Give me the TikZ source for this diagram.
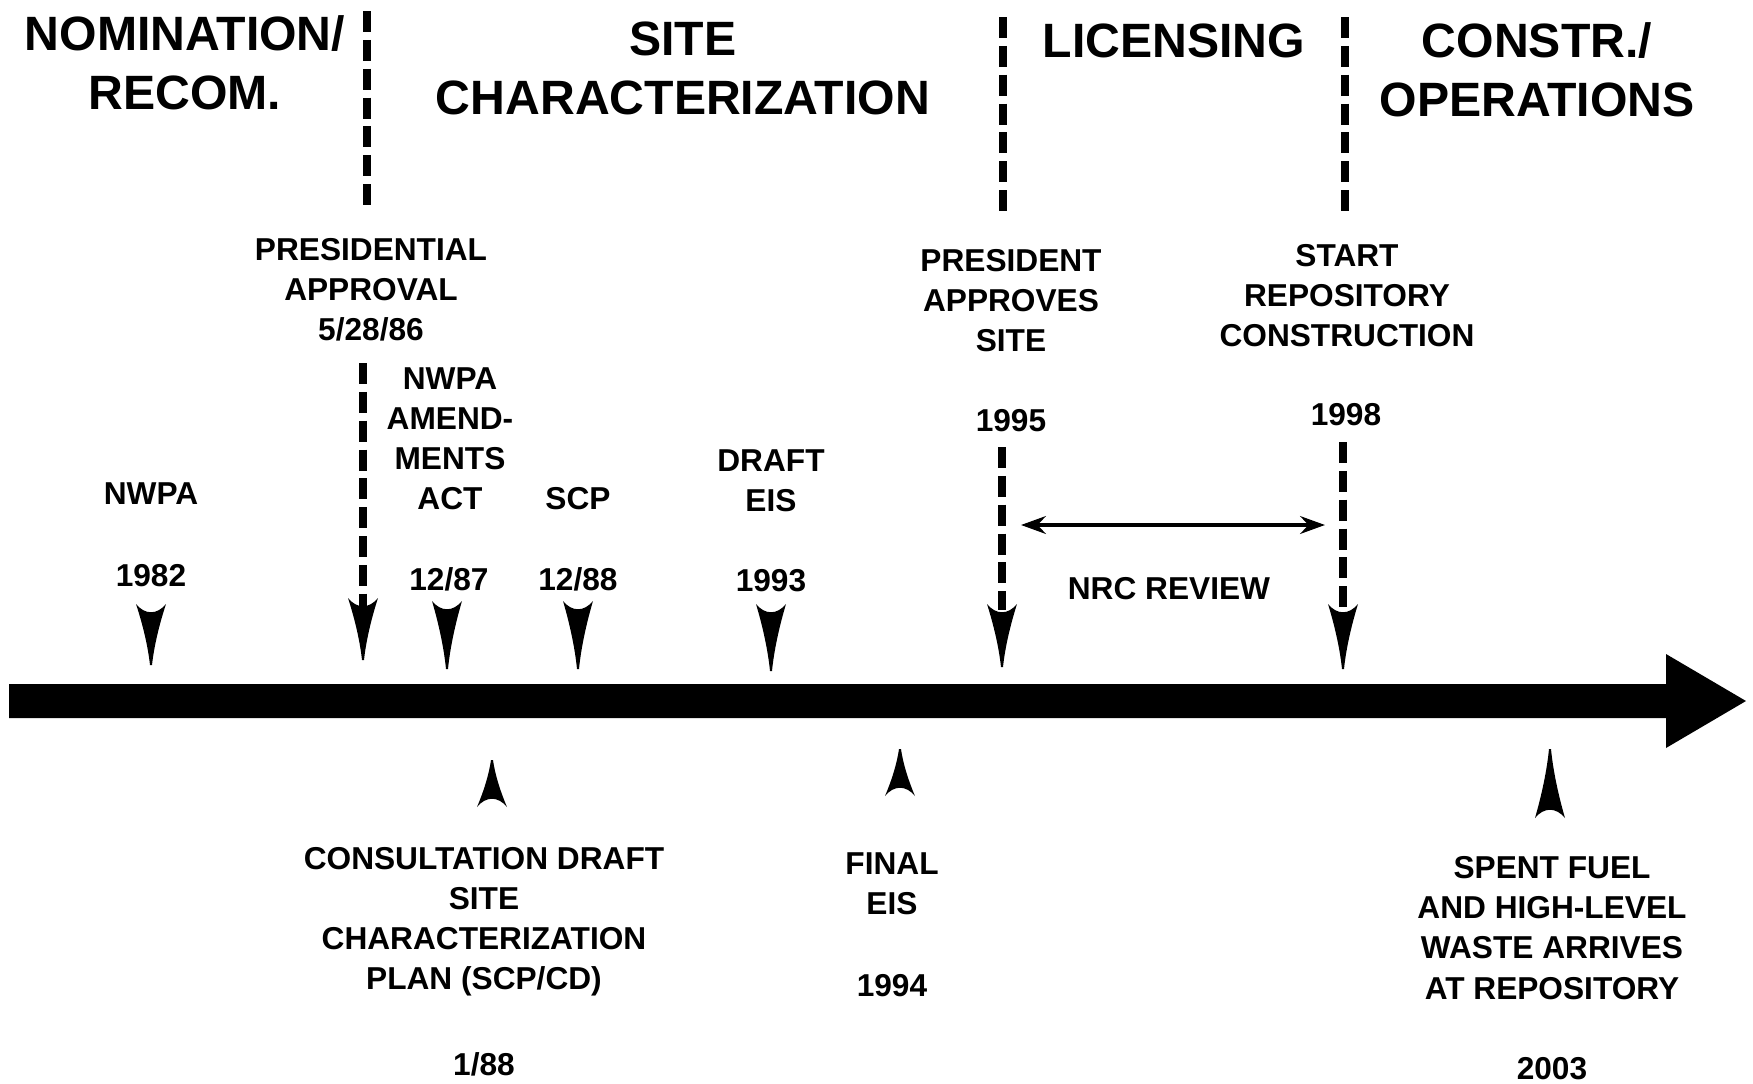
\documentclass[tikz,border=0pt]{standalone}
\usepackage{fontspec}
\setmainfont{Liberation Sans}
\usetikzlibrary{arrows.meta}

\begin{document}
\begin{tikzpicture}[x=0.01cm,y=-0.01cm,>={Stealth[length=7pt,width=5pt]},
  phase/.style={font=\fontsize{13.7}{16.8}\selectfont\bfseries,align=center,inner sep=0pt},
  lbl/.style={font=\fontsize{9}{11.4}\selectfont\bfseries,align=center,inner sep=0pt},
  ldash/.style={line width=2.1pt,dash pattern=on 6pt off 2.2pt},
  pics/spike/.style={code={\fill (-15,0) .. controls (-6,11) and (6,11) .. (15,0)
      .. controls (8,0.35*#1) and (3,0.7*#1) .. (1,#1) -- (-1,#1)
      .. controls (-3,0.7*#1) and (-8,0.35*#1) .. (-15,0) -- cycle;}}]
\useasboundingbox (0,0) rectangle (1753,1084);
% phases
\node[phase] (nom) at (185,63) {NOMINATION/\\RECOM.};
\node[phase] (site) at (683,68) {SITE\\CHARACTERIZATION};
\node[phase] (lic) at (1174,41) {LICENSING};
\node[phase] (con) at (1537,70) {CONSTR./\\OPERATIONS};
\coordinate (d1t) at (367,11);  \coordinate (d1b) at (367,212);
\coordinate (d2t) at (1003,17); \coordinate (d2b) at (1003,218);
\coordinate (d3t) at (1345,17); \coordinate (d3b) at (1345,218);
\draw[ldash] (d1t) -- (d1b);
\draw[ldash] (d2t) -- (d2b);
\draw[ldash] (d3t) -- (d3b);
% time line
\fill (9,684) -- (1666,684) -- (1666,654) -- (1746,701) -- (1666,748)
  -- (1666,718) -- (9,718) -- cycle;
% events above
\node[lbl] (nwpa) at (151,494) {NWPA};
\node[lbl] (y82) at (151,576) {1982};
\coordinate (s82) at (151,604);
\pic at (s82) {spike=61};
\node[lbl] (papp) at (371,290) {PRESIDENTIAL\\APPROVAL\\5/28/86};
\coordinate (pa1) at (363,363);
\coordinate (pa2) at (363,606);
\draw[ldash] (pa1) -- (pa2);
\pic at (363,598) {spike=62};
\node[lbl] (amend) at (450,439) {NWPA\\AMEND-\\MENTS\\ACT};
\node[lbl] (y87) at (449,579) {12/87};
\coordinate (s87) at (447,601);
\pic at (s87) {spike=68};
\node[lbl] (scp) at (578,499) {SCP};
\node[lbl] (y88) at (578,579) {12/88};
\coordinate (s88) at (578,601);
\pic at (s88) {spike=68};
\node[lbl] (deis) at (771,481) {DRAFT\\EIS};
\node[lbl] (y93) at (771,581) {1993};
\coordinate (s93) at (771,604);
\pic at (s93) {spike=67};
\node[lbl] (pres) at (1011,301) {PRESIDENT\\APPROVES\\SITE};
\node[lbl] (y95) at (1011,421) {1995};
\coordinate (p95a) at (1002,447);
\coordinate (p95b) at (1002,610);
\draw[ldash] (p95a) -- (p95b);
\pic at (1002,604) {spike=63};
\node[lbl] (start) at (1347,296) {START\\REPOSITORY\\CONSTRUCTION};
\node[lbl] (y98) at (1346,415) {1998};
\coordinate (p98a) at (1343,442);
\coordinate (p98b) at (1343,610);
\draw[ldash] (p98a) -- (p98b);
\pic at (1343,604) {spike=65};
% NRC review
\coordinate (nrcL) at (1021,525);
\coordinate (nrcR) at (1325,525);
\draw[<->,line width=1.4pt] (nrcL) -- (nrcR);
\node[lbl] (nrc) at (1169,589) {NRC REVIEW};
% events below
\coordinate (s188) at (492,807);
\pic[yscale=-1] at (s188) {spike=47};
\node[lbl] (scpcd) at (484,922) {CONSULTATION DRAFT\\SITE\\CHARACTERIZATION\\PLAN (SCP/CD)};
\node[lbl] (y188) at (484,1064) {1/88};
\coordinate (s94) at (900,796);
\pic[yscale=-1] at (s94) {spike=47};
\node[lbl] (feis) at (892,884) {FINAL\\EIS};
\node[lbl] (y94) at (892,986) {1994};
\coordinate (s03) at (1550,818);
\pic[yscale=-1] at (s03) {spike=69};
\node[lbl] (fuel) at (1552,928) {SPENT FUEL\\AND HIGH-LEVEL\\WASTE ARRIVES\\AT REPOSITORY};
\node[lbl] (y03) at (1552,1069) {2003};
\end{tikzpicture}
\end{document}
